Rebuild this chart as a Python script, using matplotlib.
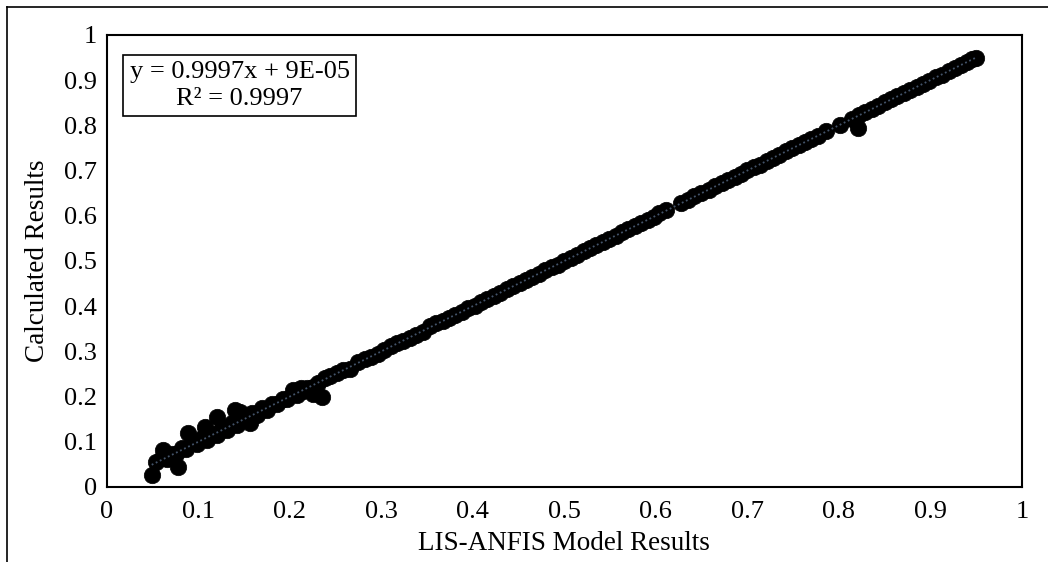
import matplotlib
matplotlib.use("Agg")
import matplotlib.pyplot as plt
from matplotlib.lines import Line2D

plt.rcParams['font.family'] = ['Liberation Serif', 'DejaVu Serif']

# main band of points (LIS-ANFIS vs calculated)
model_x = [
    0.060, 0.066, 0.071, 0.076, 0.082, 0.087, 0.093, 0.098, 0.104, 0.109,
    0.115, 0.120, 0.126, 0.131, 0.137, 0.142, 0.148, 0.153, 0.159, 0.164,
    0.170, 0.175, 0.181, 0.186, 0.192, 0.197, 0.203, 0.208, 0.214, 0.219,
    0.225, 0.231, 0.238, 0.244, 0.251, 0.258, 0.266, 0.274, 0.282, 0.289,
    0.296, 0.303, 0.310, 0.317, 0.324, 0.331, 0.338, 0.346, 0.353, 0.360,
    0.367, 0.374, 0.381, 0.388, 0.395, 0.402, 0.409, 0.416, 0.423, 0.430,
    0.437, 0.444, 0.451, 0.458, 0.465, 0.472, 0.479, 0.486, 0.493, 0.500,
    0.507, 0.514, 0.521, 0.528, 0.535, 0.542, 0.549, 0.556, 0.563, 0.570,
    0.577, 0.584, 0.591, 0.598, 0.604, 0.611, 0.628, 0.635, 0.642, 0.649,
    0.658, 0.665, 0.672, 0.679, 0.686, 0.693, 0.700, 0.707, 0.714, 0.721,
    0.728, 0.735, 0.742, 0.749, 0.756, 0.763, 0.770, 0.777, 0.786, 0.801,
    0.814, 0.822, 0.829, 0.836, 0.843, 0.850, 0.857, 0.864, 0.871, 0.878,
    0.885, 0.892, 0.899, 0.906, 0.913, 0.920, 0.927, 0.934, 0.940, 0.946, 0.950,
]
calc_y = [
    0.064, 0.062, 0.074, 0.072, 0.086, 0.084, 0.097, 0.094, 0.108, 0.103,
    0.118, 0.114, 0.130, 0.127, 0.141, 0.136, 0.152, 0.149, 0.163, 0.160,
    0.174, 0.171, 0.184, 0.183, 0.195, 0.194, 0.206, 0.203, 0.212, 0.218,
    0.222, 0.229, 0.241, 0.246, 0.252, 0.259, 0.262, 0.276, 0.284, 0.288,
    0.294, 0.304, 0.312, 0.318, 0.322, 0.329, 0.337, 0.343, 0.355, 0.362,
    0.368, 0.373, 0.380, 0.388, 0.396, 0.401, 0.409, 0.415, 0.423, 0.429,
    0.437, 0.445, 0.451, 0.458, 0.464, 0.472, 0.479, 0.486, 0.492, 0.500,
    0.507, 0.514, 0.521, 0.528, 0.535, 0.542, 0.549, 0.556, 0.563, 0.570,
    0.577, 0.584, 0.590, 0.598, 0.605, 0.612, 0.628, 0.634, 0.643, 0.650,
    0.657, 0.665, 0.672, 0.680, 0.686, 0.693, 0.701, 0.707, 0.713, 0.721,
    0.728, 0.735, 0.742, 0.749, 0.756, 0.763, 0.770, 0.777, 0.787, 0.800,
    0.814, 0.822, 0.829, 0.836, 0.843, 0.851, 0.857, 0.864, 0.871, 0.878,
    0.885, 0.892, 0.899, 0.906, 0.912, 0.920, 0.927, 0.934, 0.941, 0.946, 0.949,
]

# scattered points off the line
outlier_x = [0.049, 0.054, 0.061, 0.078, 0.089, 0.107, 0.120, 0.140, 0.145,
             0.156, 0.203, 0.212, 0.225, 0.235, 0.821]
outlier_y = [0.027, 0.056, 0.082, 0.045, 0.119, 0.133, 0.155, 0.170, 0.165,
             0.141, 0.214, 0.218, 0.205, 0.200, 0.794]

slope = 0.9997
intercept = 9e-05
fit_x = [0.049, 0.950]
fit_y = [slope * v + intercept for v in fit_x]

ticks = [0, 0.1, 0.2, 0.3, 0.4, 0.5, 0.6, 0.7, 0.8, 0.9, 1]
tick_labels = ['0', '0.1', '0.2', '0.3', '0.4', '0.5', '0.6', '0.7', '0.8', '0.9', '1']

fig = plt.figure(figsize=(10.48, 5.62), dpi=100)
ax = fig.add_axes([0.102, 0.1335, 0.873, 0.8045])

ax.scatter(model_x + outlier_x, calc_y + outlier_y, s=140, c='black',
           edgecolors='black', linewidths=0.5, zorder=3)
ax.plot(fit_x, fit_y, color='#44546A', lw=1.3, ls=(0, (1, 1.5)), zorder=4)

ax.set_xlim(0, 1)
ax.set_ylim(0, 1)
ax.set_xticks(ticks)
ax.set_xticklabels(tick_labels)
ax.set_yticks(ticks)
ax.set_yticklabels(tick_labels)
ax.tick_params(length=0, labelsize=19)
ax.tick_params(axis='x', pad=10)
ax.tick_params(axis='y', pad=7)
for sp in ax.spines.values():
    sp.set_linewidth(1.5)
    sp.set_color('black')

ax.set_xlabel('LIS-ANFIS Model Results', fontsize=19.5, labelpad=6)
ax.set_ylabel('Calculated Results', fontsize=19.5, labelpad=10)

ax.text(0.145, 0.888, 'y = 0.9997x + 9E-05\nR² = 0.9997', transform=ax.transAxes,
        ha='center', va='center', multialignment='center', fontsize=19,
        linespacing=1.25, zorder=5,
        bbox=dict(boxstyle='square,pad=0.25', fc='white', ec='black', lw=1.2))

# outer chart frame (only left and top edges visible)
fig.add_artist(Line2D([0.0067, 0.0067], [0, 0.9875], color='black', lw=1.2))
fig.add_artist(Line2D([0.0067, 1], [0.9875, 0.9875], color='black', lw=1.2))

fig.savefig('out.png', dpi=100)
